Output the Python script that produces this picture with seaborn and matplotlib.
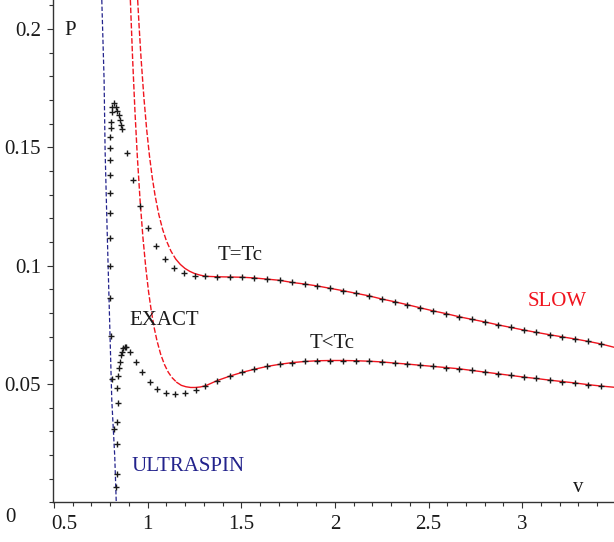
import numpy as np
import pandas as pd
import seaborn as sns
import matplotlib.pyplot as plt
import matplotlib.transforms as mtransforms
from matplotlib.ticker import MultipleLocator, FixedLocator

# sample volumes where the exact points sit on the slow curves
v_grid = [1.309, 1.371, 1.439, 1.505, 1.570, 1.638, 1.705, 1.771, 1.841, 1.907,
          1.975, 2.045, 2.113, 2.184, 2.250, 2.321, 2.386, 2.454, 2.524, 2.594,
          2.663, 2.731, 2.801, 2.869, 2.938, 3.007, 3.075, 3.146, 3.213, 3.283,
          3.351, 3.421]
tc_tail_p = [0.0955, 0.0953, 0.0952, 0.0951, 0.0948, 0.0943, 0.0938, 0.0929, 0.0922, 0.0914,
             0.0904, 0.0894, 0.0883, 0.0872, 0.0859, 0.0847, 0.0835, 0.0822, 0.0809, 0.0797,
             0.0784, 0.0773, 0.0762, 0.0750, 0.0739, 0.0728, 0.0718, 0.0708, 0.0699, 0.0690,
             0.0680, 0.0669]
lo_tail_p = [0.0492, 0.0514, 0.0533, 0.0549, 0.0562, 0.0574, 0.0583, 0.0590, 0.0595, 0.0598,
             0.0599, 0.0599, 0.0598, 0.0596, 0.0593, 0.0588, 0.0584, 0.0579, 0.0574, 0.0569,
             0.0564, 0.0557, 0.0550, 0.0543, 0.0536, 0.0529, 0.0523, 0.0516, 0.0510, 0.0504,
             0.0497, 0.0491]

# exact isotherm T=Tc, start of the branch (bottom -> peak -> down)
ex_tc_v = [0.830, 0.821, 0.8125, 0.807, 0.800, 0.798, 0.798, 0.798, 0.798, 0.798,
           0.798, 0.798, 0.800, 0.802, 0.803, 0.809, 0.8125, 0.821, 0.834, 0.839,
           0.848, 0.853, 0.860, 0.866, 0.892, 0.924, 0.962, 1.004, 1.045, 1.091,
           1.140, 1.194, 1.251]
ex_tc_p = [0.0066, 0.0308, 0.0519, 0.0704, 0.0862, 0.1000, 0.1118, 0.1221, 0.1308, 0.1383,
           0.1446, 0.1498, 0.1545, 0.1580, 0.1608, 0.1650, 0.1672, 0.1689, 0.1672, 0.1655,
           0.1637, 0.1615, 0.1594, 0.1576, 0.1478, 0.1361, 0.1252, 0.1160, 0.1084, 0.1029,
           0.0991, 0.0970, 0.0957]

# exact isotherm T<Tc
ex_lo_v = [0.839, 0.839, 0.839, 0.842, 0.839, 0.844, 0.848, 0.851, 0.857, 0.862,
           0.869, 0.878, 0.887, 0.906, 0.937, 0.972, 1.013, 1.052, 1.096, 1.146,
           1.199, 1.256]
ex_lo_p = [0.0118, 0.0245, 0.0340, 0.0421, 0.0484, 0.0533, 0.0566, 0.0594, 0.0622, 0.0636,
           0.0650, 0.0657, 0.0655, 0.0636, 0.0594, 0.0549, 0.0509, 0.0477, 0.0460, 0.0456,
           0.0463, 0.0473]

# slow rotation approximation, steep part
slow_tc_v = [0.947, 0.955, 0.965, 0.980, 0.995, 1.010, 1.025, 1.040, 1.060, 1.080,
             1.100, 1.125, 1.150, 1.175, 1.200, 1.225, 1.250, 1.280]
slow_tc_p = [0.2123, 0.2008, 0.1878, 0.1713, 0.1576, 0.1464, 0.1372, 0.1296, 0.1216, 0.1154,
             0.1106, 0.1061, 0.1028, 0.1005, 0.0988, 0.0976, 0.0967, 0.0960]
slow_lo_v = [0.908, 0.920, 0.932, 0.945, 0.960, 0.975, 0.990, 1.005, 1.020, 1.035,
             1.050, 1.070, 1.090, 1.110, 1.130, 1.155, 1.180, 1.205, 1.230, 1.255, 1.280]
slow_lo_p = [0.2123, 0.1875, 0.1661, 0.1464, 0.1275, 0.1120, 0.0994, 0.0891, 0.0807, 0.0738,
             0.0683, 0.0625, 0.0582, 0.0550, 0.0527, 0.0507, 0.0494, 0.0488, 0.0485, 0.0485, 0.0487]
slow_end_v = [3.49]
slow_tc_end_p = [0.0655]
slow_lo_end_p = [0.0486]

# ultraspinning limit
ultra_v = [0.7555, 0.7678, 0.7731, 0.7821, 0.7928, 0.8088, 0.8247, 0.8327]
ultra_p = [0.2123, 0.1784, 0.1489, 0.1207, 0.0897, 0.0432, 0.0192, 0.0]

x_ticks = [0.5, 1, 1.5, 2, 2.5, 3]
x_labels = ['0.5', '1', '1.5', '2', '2.5', '3']
y_ticks = [0.05, 0.1, 0.15, 0.2]
y_labels = ['0.05', '0.1', '0.15', '0.2']

RED = '#f0141e'
BLUE = '#23238c'
INK = '#1a1a1a'

exact_tc = pd.DataFrame({'v': ex_tc_v + v_grid, 'P': ex_tc_p + tc_tail_p})
exact_lo = pd.DataFrame({'v': ex_lo_v + v_grid, 'P': ex_lo_p + lo_tail_p})
slow_tc = pd.DataFrame({'v': slow_tc_v + v_grid + slow_end_v, 'P': slow_tc_p + tc_tail_p + slow_tc_end_p})
slow_lo = pd.DataFrame({'v': slow_lo_v + v_grid + slow_end_v, 'P': slow_lo_p + lo_tail_p + slow_lo_end_p})
ultra = pd.DataFrame({'v': ultra_v, 'P': ultra_p})

sns.set_theme(style="ticks")
plt.rcParams['font.family'] = ['Liberation Serif', 'DejaVu Serif']

fig = plt.figure(figsize=(6.14, 5.42), dpi=100)
ax = fig.add_axes([53 / 614, 39.8 / 542, 561 / 614, 502.2 / 542])

sns.lineplot(data=ultra, x='v', y='P', sort=False, estimator=None, color=BLUE,
             lw=0.9, linestyle=(0, (3.5, 1.8)), ax=ax)

# the slow curves look dashed on the steep part, solid on the flat part
for df in (slow_tc, slow_lo):
    steep = df[df['v'] <= 1.16]
    flat = df[df['v'] >= steep['v'].max()]
    sns.lineplot(data=steep, x='v', y='P', sort=False, estimator=None, color=RED,
                 lw=1.0, linestyle=(0, (4, 1.5)), ax=ax)
    sns.lineplot(data=flat, x='v', y='P', sort=False, estimator=None, color=RED,
                 lw=1.0, ax=ax)

for df in (exact_tc, exact_lo):
    sns.scatterplot(data=df, x='v', y='P', marker='+', s=20, color=INK,
                    linewidth=1.0, ax=ax, zorder=3)

ax.set_xlim(0.495, 3.49)
ax.set_ylim(0, 0.2123)
ax.set_xlabel('')
ax.set_ylabel('')
sns.despine(ax=ax)
for s in ('left', 'bottom'):
    ax.spines[s].set_color('#333333')
    ax.spines[s].set_linewidth(1.0)

ax.xaxis.set_major_locator(FixedLocator(x_ticks))
ax.set_xticklabels(x_labels)
ax.xaxis.set_minor_locator(MultipleLocator(0.1))
ax.yaxis.set_major_locator(FixedLocator(y_ticks))
ax.set_yticklabels(y_labels)
ax.yaxis.set_minor_locator(MultipleLocator(0.01))
ax.tick_params(which='major', length=4.5, width=0.8, color='#333333',
               labelsize=15, labelcolor=INK, direction='out')
ax.tick_params(which='minor', length=3, width=0.8, color='#333333', direction='out')
ax.tick_params(axis='x', which='major', pad=5)
ax.tick_params(axis='y', which='major', pad=4)

# the first x label sits to the right of the vertical axis
first = ax.get_xticklabels()[0]
first.set_transform(first.get_transform() +
                    mtransforms.ScaledTranslation(0.10, 0, fig.dpi_scale_trans))
fig.text(10 / 614, 1 - 517 / 542, '0', fontsize=15, color=INK, ha='center', va='center')

ax.text(0.589, 0.1996, 'P', fontsize=15, color=INK, ha='center', va='center')
ax.text(3.297, 0.0064, 'v', fontsize=15, color=INK, ha='center', va='center')
ax.text(1.496, 0.1045, 'T=Tc', fontsize=15, color=INK, ha='center', va='center')
ax.text(1.987, 0.0673, 'T<Tc', fontsize=15, color=INK, ha='center', va='center')
ax.text(1.086, 0.0770, 'EXACT', fontsize=15, color=INK, ha='center', va='center')
ax.text(3.187, 0.0847, 'SLOW', fontsize=15, color=RED, ha='center', va='center')
ax.text(1.214, 0.0149, 'ULTRASPIN', fontsize=15, color=BLUE, ha='center', va='center')

fig.savefig('out.png', dpi=100)
